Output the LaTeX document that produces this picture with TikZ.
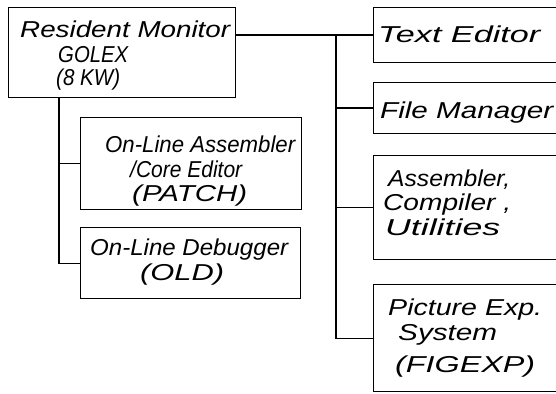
\documentclass[tikz,border=0pt]{standalone}
\usepackage{fontspec}
\usepackage{graphicx}
\newfontfamily\hand{Liberation Sans}
\newcommand\hwtext[2]{\resizebox{#1pt}{\height}{#2}}
\begin{document}
\begin{tikzpicture}[x=1pt,y=-1pt,
  box/.style={draw, line width=1.2pt, inner sep=0pt, anchor=north west},
  lab/.style={anchor=base west, inner sep=0pt, font=\hand\itshape\fontsize{23}{24}\selectfont},
  wire/.style={line width=1.2pt}]
\useasboundingbox (0,0) rectangle (556,393);
\clip (0,0) rectangle (556,393);
% boxes
\node[box, minimum width=227pt, minimum height=90pt] (res) at (8,7) {};
\node[box, minimum width=221pt, minimum height=92pt] (patch) at (80,117) {};
\node[box, minimum width=220pt, minimum height=71pt] (old) at (80,227) {};
\node[box, minimum width=227pt, minimum height=55pt] (te) at (373,7) {};
\node[box, minimum width=227pt, minimum height=51pt] (fm) at (373,82) {};
\node[box, minimum width=227pt, minimum height=104pt] (asm) at (373,155) {};
\node[box, minimum width=227pt, minimum height=107pt] (pic) at (373,284) {};
% junction columns
\coordinate (tx) at (59,0);
\coordinate (bx) at (336,0);
% connectors
\draw[wire] (tx |- res.south) |- (patch.west);
\draw[wire] (tx |- patch.west) |- (old.west);
\draw[wire] (res.east |- te.west) -- (te.west);
\draw[wire] (bx |- te.west) -- (bx |- pic.west) -- (pic.west);
\draw[wire] (bx |- fm.west) -- (fm.west);
\draw[wire] (bx |- asm.west) -- (asm.west);
% texts
\node[lab] (t1) at (20,38) {\hwtext{210}{Resident Monitor}};
\node[lab] (t2) at (58,63) {\hwtext{70}{GOLEX}};
\node[lab] (t3) at (56,86) {\hwtext{64}{(8 KW)}};
\node[lab] (t4) at (105,152) {\hwtext{190}{On-Line Assembler}};
\node[lab] (t5) at (130,177) {\hwtext{112}{/Core Editor}};
\node[lab] (t6) at (132,201) {\hwtext{115}{(PATCH)}};
\node[lab] (t7) at (90,255) {\hwtext{198}{On-Line Debugger}};
\node[lab] (t8) at (140,280) {\hwtext{84}{(OLD)}};
\node[lab] (t9) at (378,43) {\hwtext{162}{Text Editor}};
\node[lab] (t10) at (380,118) {\hwtext{173}{File Manager}};
\node[lab] (t11) at (388,186) {\hwtext{122}{Assembler,}};
\node[lab] (t12) at (383,210) {\hwtext{128}{Compiler ,}};
\node[lab] (t13) at (385,235) {\hwtext{115}{Utilities}};
\node[lab] (t14) at (388,315) {\hwtext{154}{Picture Exp.}};
\node[lab] (t15) at (398,340) {\hwtext{99}{System}};
\node[lab] (t16) at (395,372) {\hwtext{140}{(FIGEXP)}};
\end{tikzpicture}
\end{document}
